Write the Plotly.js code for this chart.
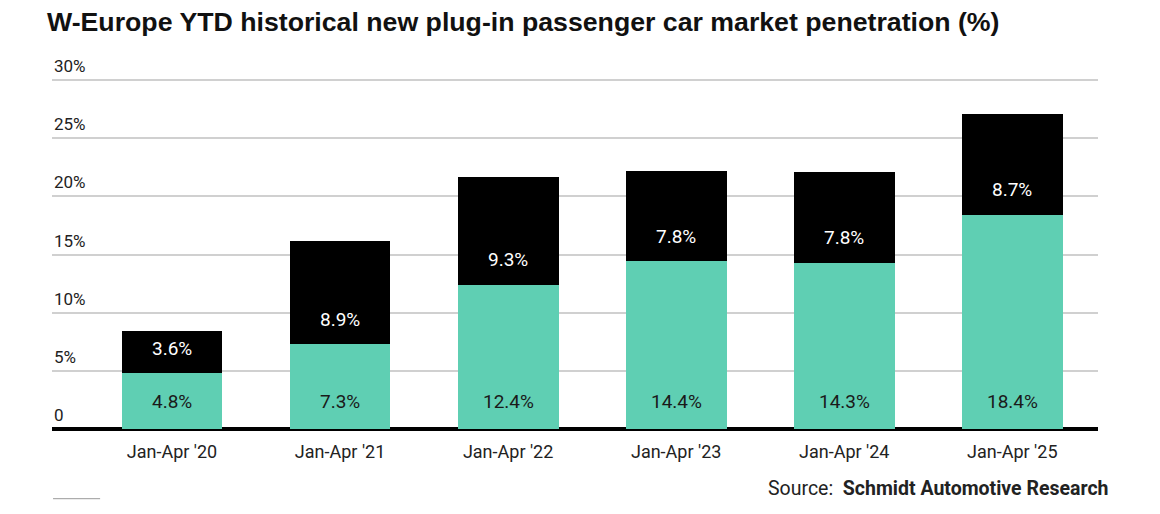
<!DOCTYPE html>
<html>
<head>
<meta charset="utf-8">
<script src="https://cdn.plot.ly/plotly-3.0.1.min.js"></script>
<style>html,body{margin:0;padding:0;background:#fff;}#chart{width:1160px;height:514px;}</style>
</head>
<body>
<div id="chart"></div>
<script>
const categories = ["Jan-Apr '20", "Jan-Apr '21", "Jan-Apr '22", "Jan-Apr '23", "Jan-Apr '24", "Jan-Apr '25"];
const bevShare = [4.8, 7.3, 12.4, 14.4, 14.3, 18.4];
const phevShare = [3.6, 8.9, 9.3, 7.8, 7.8, 8.7];
const yTickVals = [0, 5, 10, 15, 20, 25, 30];
const yTickText = ["0", "5%", "10%", "15%", "20%", "25%", "30%"];

const fmt = v => v.toFixed(1) + '%';

const traces = [
  {type: 'bar', x: categories, y: bevShare, name: 'BEV', marker: {color: '#5fcfb3'}, width: 0.6, hoverinfo: 'x+y'},
  {type: 'bar', x: categories, y: phevShare, name: 'PHEV', marker: {color: '#000000'}, width: 0.6, hoverinfo: 'x+y'}
];

const annotations = [];
categories.forEach((c, i) => {
  annotations.push({x: c, y: 0, xref: 'x', yref: 'y', text: fmt(bevShare[i]), showarrow: false,
    yanchor: 'middle', yshift: 28, font: {family: 'Roboto', size: 19, color: '#1a1a1a'}});
  annotations.push({x: c, y: bevShare[i], xref: 'x', yref: 'y', text: fmt(phevShare[i]), showarrow: false,
    yanchor: 'middle', yshift: 25, font: {family: 'Roboto', size: 19, color: '#ffffff'}});
});
yTickVals.forEach((v, i) => {
  annotations.push({xref: 'paper', yref: 'y', x: 0, y: v, xanchor: 'left', yanchor: 'bottom', yshift: 2,
    showarrow: false, text: yTickText[i], font: {family: 'Roboto', size: 17, color: '#222'}});
});
annotations.push({xref: 'paper', yref: 'paper', x: 1.012, y: -0.17, xanchor: 'right', yanchor: 'middle', showarrow: false,
  text: "Source:  <b>Schmidt Automotive Research</b>", font: {family: 'Roboto', size: 19.5, color: '#222'}});

const layout = {
  width: 1160, height: 514,
  margin: {l: 52, r: 62, t: 77, b: 85},
  paper_bgcolor: '#fff', plot_bgcolor: '#fff',
  barmode: 'stack',
  showlegend: false,
  title: {text: '<b>W-Europe YTD historical new plug-in passenger car market penetration (%)</b>',
    x: 47 / 1160, xref: 'container', xanchor: 'left', y: 1 - 22 / 514, yref: 'container', yanchor: 'middle',
    font: {family: 'Liberation Sans', size: 26.7, color: '#111'}},
  xaxis: {type: 'category', range: [-0.714, 5.51], showgrid: false, zeroline: false,
    showline: false, ticks: '', ticklabelstandoff: 10, tickfont: {family: 'Roboto', size: 18, color: '#222'}},
  yaxis: {range: [0, 30.26], tickvals: yTickVals, showticklabels: false,
    showgrid: true, gridcolor: '#d0d0d0', gridwidth: 2,
    zeroline: true, zerolinecolor: '#000', zerolinewidth: 3.5, showline: false, ticks: ''},
  annotations: annotations,
  shapes: [{type: 'line', xref: 'paper', yref: 'paper', x0: 0.001, x1: 0.046, y0: -0.198, y1: -0.198,
    line: {color: '#999', width: 1}}]
};

Plotly.newPlot('chart', traces, layout, {displayModeBar: false, staticPlot: true});
</script>
</body>
</html>
